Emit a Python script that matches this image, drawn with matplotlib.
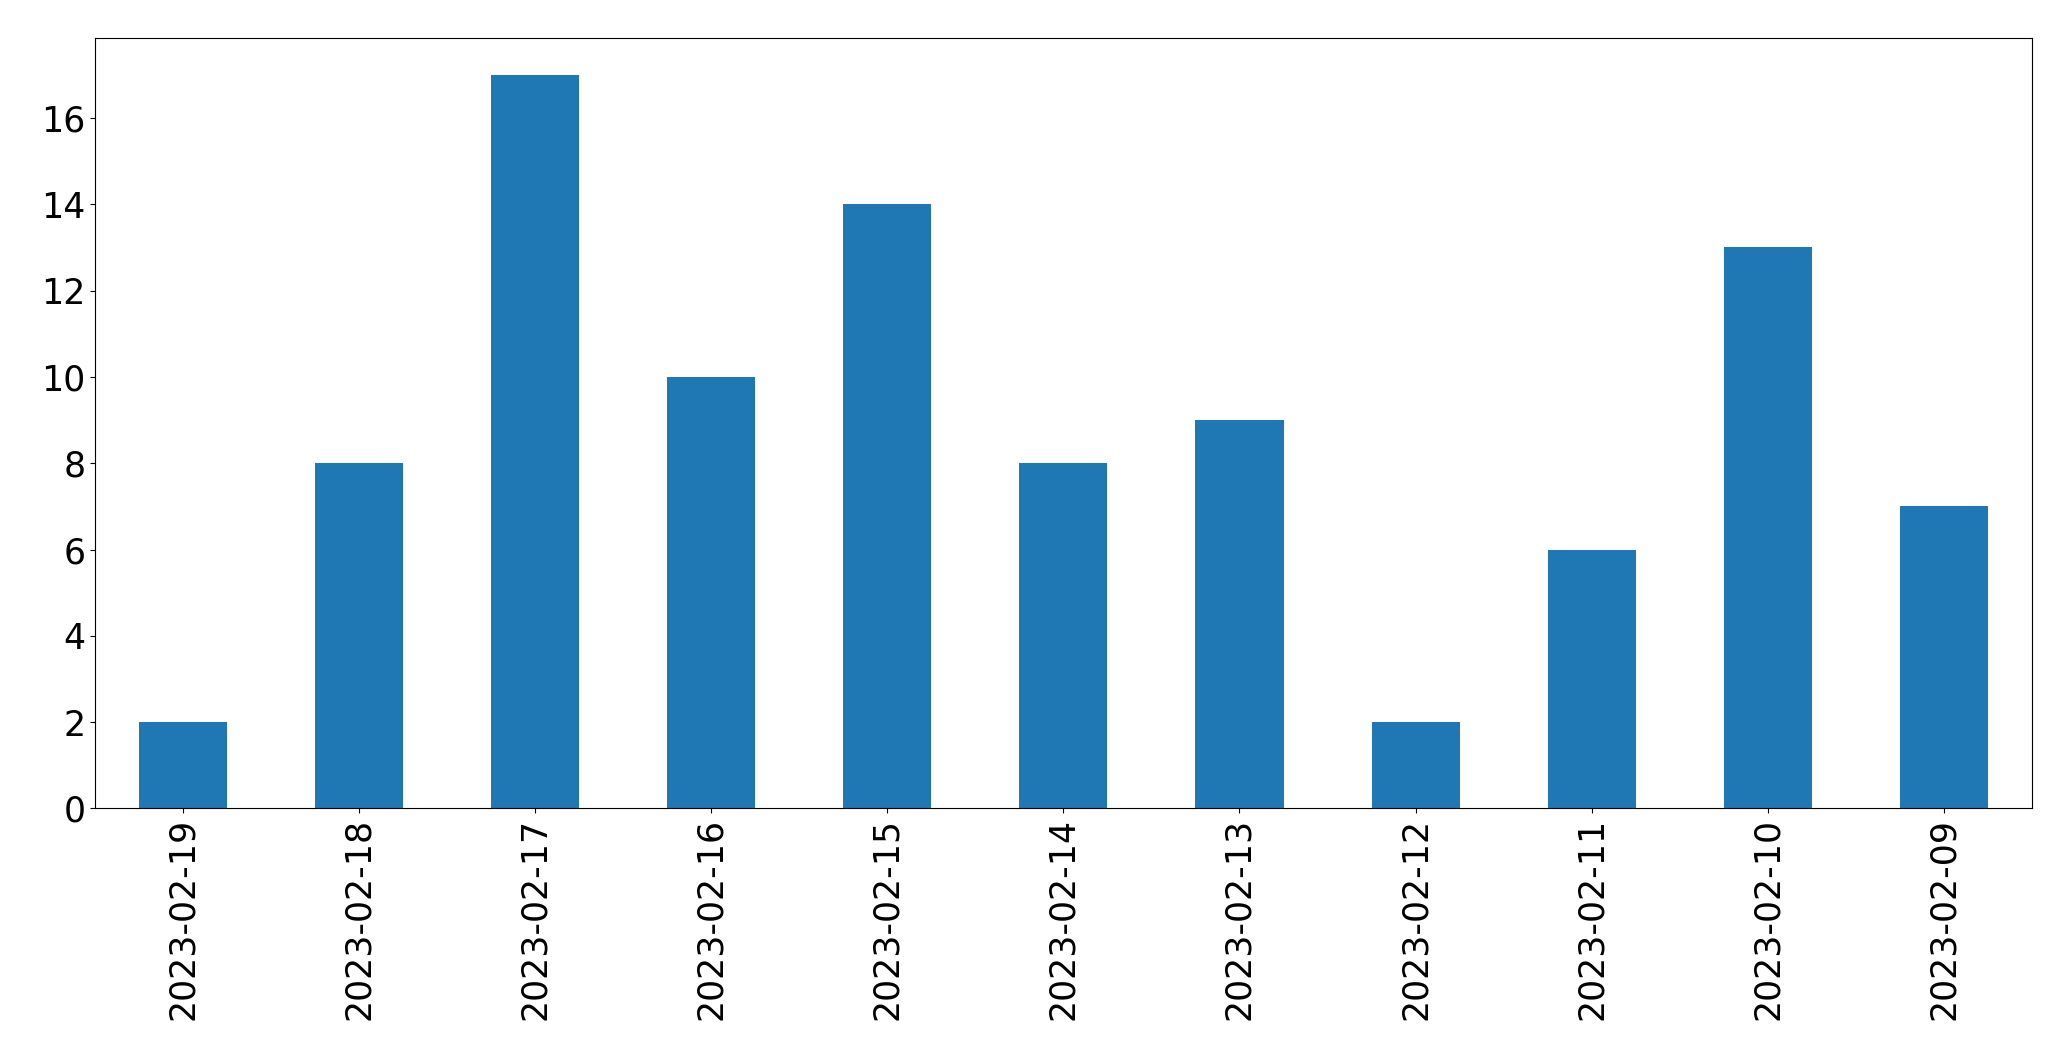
import matplotlib
matplotlib.use("Agg")
import matplotlib.pyplot as plt

dates = ["2023-02-19", "2023-02-18", "2023-02-17", "2023-02-16", "2023-02-15",
         "2023-02-14", "2023-02-13", "2023-02-12", "2023-02-11", "2023-02-10", "2023-02-09"]
counts = [2, 8, 17, 10, 14, 8, 9, 2, 6, 13, 7]

fig = plt.figure(figsize=(20.71, 10.61), dpi=100)
ax = fig.add_axes([0.046, 0.238, 0.935, 0.726])
x = list(range(len(dates)))
ax.bar(x, counts, width=0.5, color="#1f77b4")
ax.set_xlim(-0.5, len(dates) - 0.5)
ax.set_xticks(x)
ax.set_xticklabels(dates, rotation=90, fontsize=25)
ax.tick_params(axis="y", labelsize=25)
fig.savefig("out.png", dpi=100)
